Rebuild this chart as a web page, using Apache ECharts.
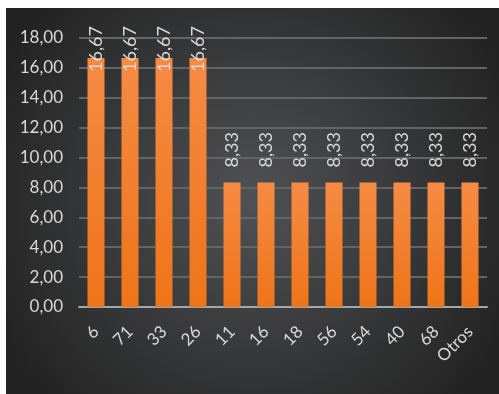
<!DOCTYPE html>
<html><head><meta charset="utf-8">
<script src="https://cdn.jsdelivr.net/npm/echarts@6/dist/echarts.min.js"></script>
<style>html,body{margin:0;padding:0;background:#fff;}#c{position:absolute;left:6px;top:8px;width:493px;height:386px;}</style>
</head><body><div id="c"></div>
<script>
const categories = ['6','71','33','26','11','16','18','56','54','40','68','Otros'];
const values = [16.67,16.67,16.67,16.67,8.33,8.33,8.33,8.33,8.33,8.33,8.33,8.33];
const yTicks = [0,2,4,6,8,10,12,14,16,18];
const fmt = v => v.toFixed(2).replace('.', ',');
const chart = echarts.init(document.getElementById('c'));
const data = values.map(v => {
  const item = {value: v};
  if (v > 12) item.label = {offset: [-29, 0]};
  return item;
});
chart.setOption({
  backgroundColor: {type:'radial', x:0.5, y:0.5, r:0.75, colorStops:[{offset:0,color:'#4f5154'},{offset:1,color:'#222222'}]},
  grid: {left: 73, right: 12, top: 30, bottom: 87},
  xAxis: {
    type: 'category', data: categories,
    axisTick: {show:false},
    axisLine: {lineStyle:{color:'#a6a6a6', width:2}},
    axisLabel: {rotate:45, color:'#d9d9d9', fontFamily:'Lato', fontSize:17, margin:22}
  },
  yAxis: {
    type:'value', min:0, max:18, interval:2,
    axisLine:{show:false}, axisTick:{show:false},
    splitLine:{lineStyle:{color:'#626466', width:2}},
    axisLabel:{color:'#d9d9d9', fontFamily:'Lato', fontSize:17, margin:16, formatter: v => fmt(v)}
  },
  series: [{
    type:'bar', data: data, barWidth:'50%',
    itemStyle:{color:{type:'linear', x:0,y:0,x2:0,y2:1, colorStops:[{offset:0,color:'#f68b44'},{offset:1,color:'#ee7418'}]}},
    label:{show:true, position:'top', rotate:90, distance:15, align:'left', verticalAlign:'middle',
      color:'#d9d9d9', fontFamily:'Lato', fontSize:18, formatter: p => fmt(p.value)}
  }]
});
</script></body></html>
